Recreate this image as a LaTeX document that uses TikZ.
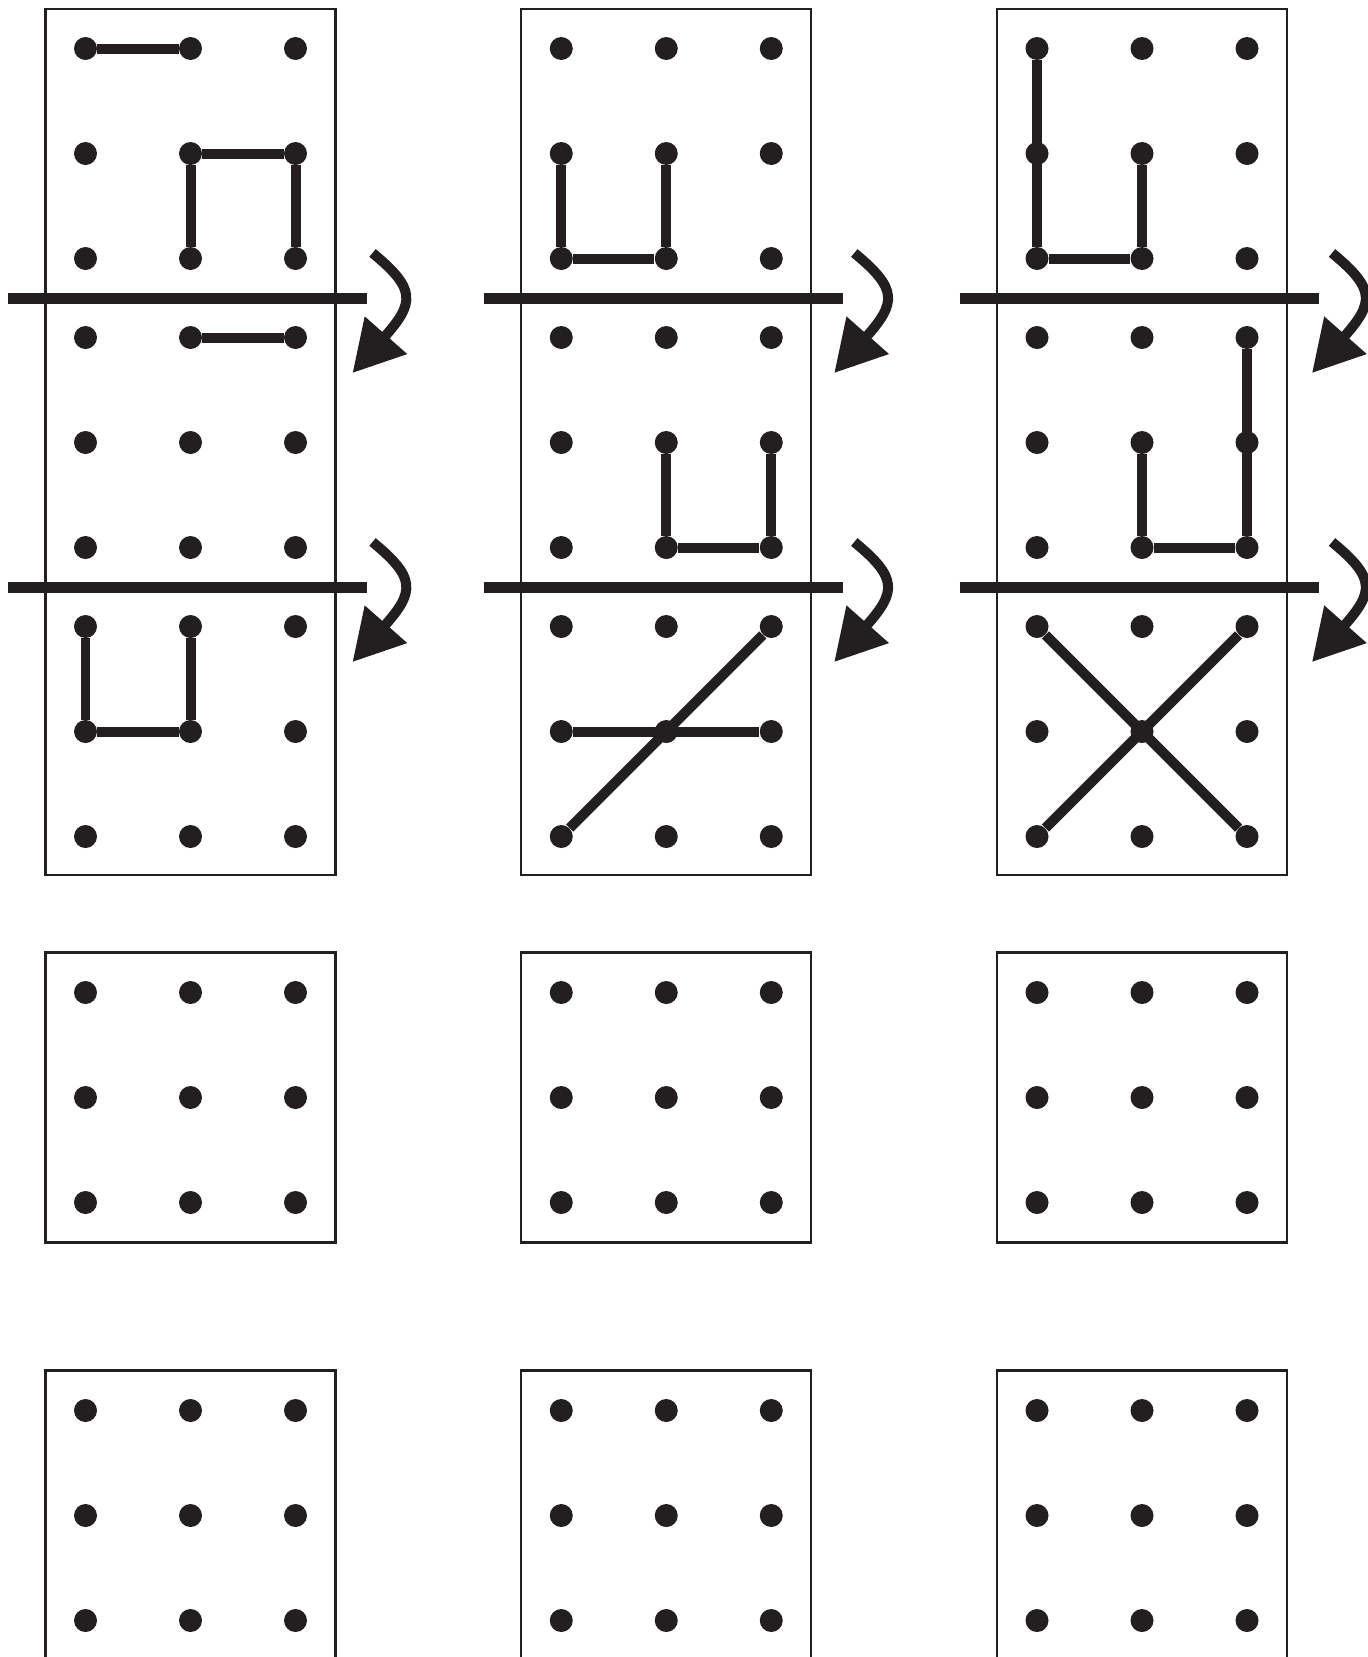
\documentclass[tikz,border=0pt]{standalone}
\usetikzlibrary{arrows.meta}
\definecolor{ink}{HTML}{231F20}
\tikzset{
  peg/.style={circle, fill=ink, minimum size=0.46cm, inner sep=0pt},
  board/.style={draw=ink, line width=0.045cm},
  band/.style={draw=ink, line width=0.2cm},
  foldline/.style={draw=ink, line width=0.22cm},
  foldarrow/.style={draw=ink, line width=0.2cm,
                    -{Triangle[length=1.01cm, width=1.08cm]}}
}
\begin{document}
\begin{tikzpicture}[x=0.02cm, y=-0.02cm]
  \useasboundingbox (0,0) rectangle (1367,1657);
  % column/x of the left pegs/shift of the fold arrows
  \foreach \c/\bx/\ax in {a/85.5/0, b/561.25/6, c/1037/8}
    { % the folded strip: three 3x3 sections
      \draw[board] (\bx-40, 9) rectangle (\bx+250, 875);
      \foreach \s/\sy in {1/48.5, 2/337.5, 3/626.5}
        \foreach \r in {1,2,3}
          \foreach \k in {1,2,3}
            { \node[peg] (\c\s-\r\k) at (\bx+105*\k-105, \sy+105*\r-105) {}; }
      % fold lines, each with its arrow
      \foreach \f/\fy in {1/298, 2/587}
        { \coordinate (fold-\c\f-w) at (\bx-77.5, \fy);
          \coordinate (fold-\c\f-e) at (\bx+281.5, \fy);
          \draw[foldline] (fold-\c\f-w) -- (fold-\c\f-e);
          \coordinate (turn-\c\f-s) at (\bx+\ax+287, \fy-45);
          \coordinate (turn-\c\f-t) at (\bx+\ax+267, \fy+75);
          \draw[foldarrow] (turn-\c\f-s) .. controls +(44, 36)
            and +(62, -70) .. (turn-\c\f-t); }
      % two empty boards below
      \foreach \q/\qy in {4/992.5, 5/1410.5}
        { \draw[board] (\bx-40, \qy-40) rectangle (\bx+250, \qy+250);
          \foreach \r in {1,2,3}
            \foreach \k in {1,2,3}
              { \node[peg] (\c\q-\r\k) at (\bx+105*\k-105, \qy+105*\r-105) {}; } }
    }
  % the rubber bands: from peg/to peg
  \foreach \u/\v in {%
      a1-11/a1-12, a1-32/a1-22, a1-22/a1-23, a1-23/a1-33,
      a2-12/a2-13,
      a3-11/a3-21, a3-21/a3-22, a3-22/a3-12,
      b1-21/b1-31, b1-31/b1-32, b1-32/b1-22,
      b2-22/b2-32, b2-32/b2-33, b2-33/b2-23,
      b3-21/b3-23, b3-31/b3-13,
      c1-11/c1-31, c1-31/c1-32, c1-32/c1-22,
      c2-13/c2-33, c2-33/c2-32, c2-32/c2-22,
      c3-11/c3-33, c3-13/c3-31}
    { \draw[band] (\u) -- (\v); }
\end{tikzpicture}
\end{document}
